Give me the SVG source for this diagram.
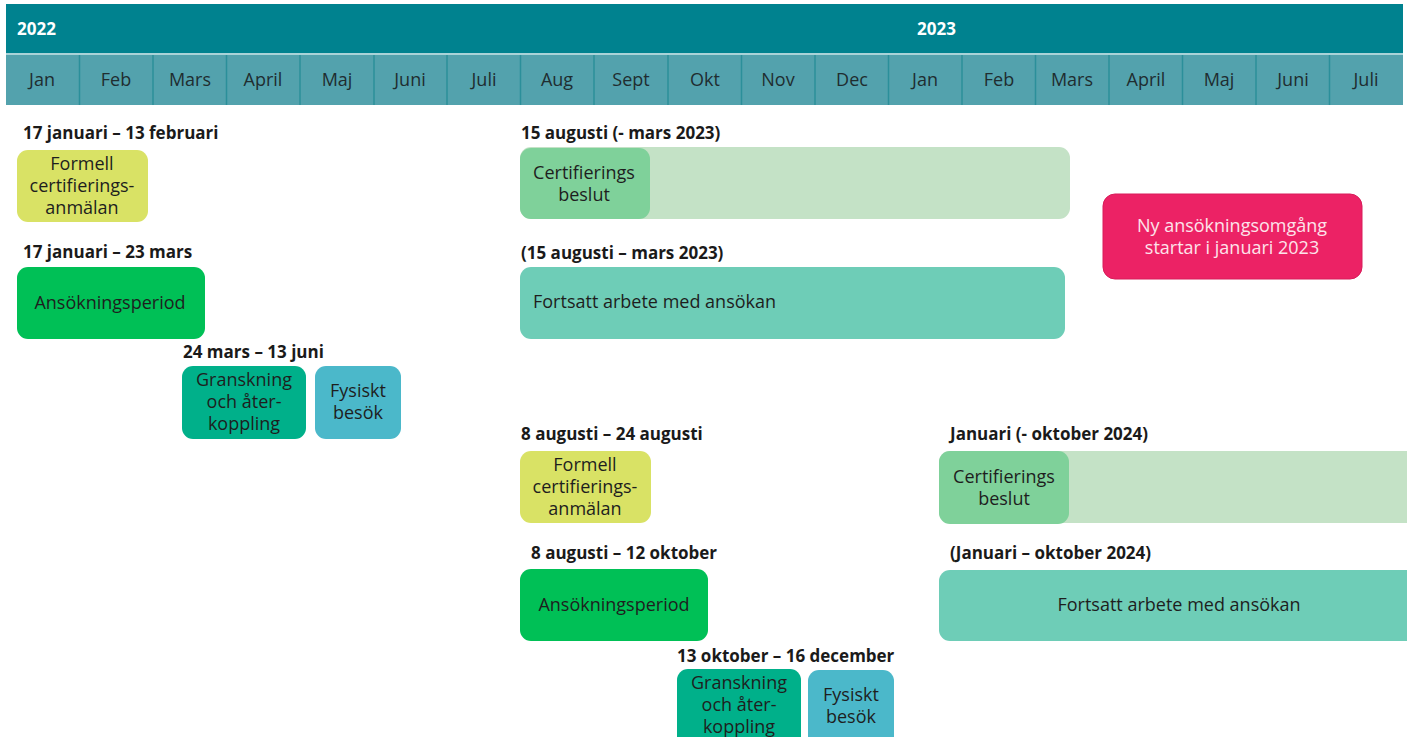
<svg xmlns="http://www.w3.org/2000/svg" width="1407" height="737" viewBox="0 0 1407 737">
<style>
.yr{font-family:"Open Sans","Liberation Sans",sans-serif;font-weight:bold;font-size:17px;fill:#ffffff}
.mo{font-family:"Open Sans","Liberation Sans",sans-serif;font-size:18px;fill:#1f2d30;text-anchor:middle}
.lbl{font-family:"Open Sans","Liberation Sans",sans-serif;font-weight:bold;font-size:17px;fill:#1a1a1a}
.t{font-family:"Open Sans","Liberation Sans",sans-serif;font-size:18px;fill:#1e1e1e;text-anchor:middle}
.tl{font-family:"Open Sans","Liberation Sans",sans-serif;font-size:18px;fill:#1e1e1e}
.sep{stroke:#2b8f9a;stroke-width:1.5}
.yellow{fill:#d9e265}
.green{fill:#00c056}
.teal{fill:#00b08a}
.blue{fill:#4bb8ca}
.pale{fill:#c4e2c6}
.mid{fill:#7fd19a}
.aqua{fill:#6ecdb7}
</style>
<rect width="1407" height="737" fill="#ffffff"/>
<g id="header">
<rect x="6" y="4" width="1397" height="49" fill="#00828f"/>
<rect x="6" y="53" width="1397" height="2" fill="#a9d3d8"/>
<rect x="6" y="55" width="1397" height="50" fill="#53a2ad"/>
<text class="yr" x="17" y="35">2022</text>
<text class="yr" x="917" y="35">2023</text>
<g>
<line class="sep" x1="79.5" y1="55" x2="79.5" y2="105"/>
<line class="sep" x1="153" y1="55" x2="153" y2="105"/>
<line class="sep" x1="226.5" y1="55" x2="226.5" y2="105"/>
<line class="sep" x1="300" y1="55" x2="300" y2="105"/>
<line class="sep" x1="374" y1="55" x2="374" y2="105"/>
<line class="sep" x1="447" y1="55" x2="447" y2="105"/>
<line class="sep" x1="520.5" y1="55" x2="520.5" y2="105"/>
<line class="sep" x1="594" y1="55" x2="594" y2="105"/>
<line class="sep" x1="668" y1="55" x2="668" y2="105"/>
<line class="sep" x1="741.5" y1="55" x2="741.5" y2="105"/>
<line class="sep" x1="815" y1="55" x2="815" y2="105"/>
<line class="sep" x1="888.5" y1="55" x2="888.5" y2="105"/>
<line class="sep" x1="962" y1="55" x2="962" y2="105"/>
<line class="sep" x1="1035.5" y1="55" x2="1035.5" y2="105"/>
<line class="sep" x1="1109" y1="55" x2="1109" y2="105"/>
<line class="sep" x1="1182.5" y1="55" x2="1182.5" y2="105"/>
<line class="sep" x1="1256" y1="55" x2="1256" y2="105"/>
<line class="sep" x1="1329.5" y1="55" x2="1329.5" y2="105"/>
</g>
<text class="mo" x="42" y="86">Jan</text>
<text class="mo" x="116" y="86">Feb</text>
<text class="mo" x="190" y="86">Mars</text>
<text class="mo" x="263" y="86">April</text>
<text class="mo" x="337" y="86">Maj</text>
<text class="mo" x="410" y="86">Juni</text>
<text class="mo" x="484" y="86">Juli</text>
<text class="mo" x="557" y="86">Aug</text>
<text class="mo" x="631" y="86">Sept</text>
<text class="mo" x="705" y="86">Okt</text>
<text class="mo" x="778" y="86">Nov</text>
<text class="mo" x="852" y="86">Dec</text>
<text class="mo" x="925" y="86">Jan</text>
<text class="mo" x="999" y="86">Feb</text>
<text class="mo" x="1072" y="86">Mars</text>
<text class="mo" x="1146" y="86">April</text>
<text class="mo" x="1219" y="86">Maj</text>
<text class="mo" x="1293" y="86">Juni</text>
<text class="mo" x="1366" y="86">Juli</text>
</g>

<g id="formell-2022">
<text class="lbl" x="23" y="139">17 januari – 13 februari</text>
<rect class="yellow" x="17" y="150" width="131" height="72" rx="11"/>
<text class="t" x="82" y="170">Formell</text>
<text class="t" x="82" y="192">certifierings-</text>
<text class="t" x="82" y="214">anmälan</text>
</g>
<g id="ansokning-2022">
<text class="lbl" x="23" y="258">17 januari – 23 mars</text>
<rect class="green" x="17" y="267" width="188" height="72" rx="11"/>
<text class="t" x="110" y="309">Ansökningsperiod</text>
</g>
<g id="granskning-2022">
<text class="lbl" x="183" y="358">24 mars – 13 juni</text>
<rect class="teal" x="182" y="366" width="124" height="73" rx="11"/>
<text class="t" x="244" y="386">Granskning</text>
<text class="t" x="244" y="408">och åter-</text>
<text class="t" x="244" y="430">koppling</text>
</g>
<g id="besok-2022">
<rect class="blue" x="315" y="366" width="86" height="73" rx="11"/>
<text class="t" x="358" y="397">Fysiskt</text>
<text class="t" x="358" y="419">besök</text>
</g>
<g id="beslut-2022">
<text class="lbl" x="521" y="139">15 augusti (- mars 2023)</text>
<rect class="pale" x="520" y="147" width="550" height="72" rx="11"/>
<rect class="mid" x="520" y="148" width="130" height="71" rx="11"/>
<text class="t" x="584" y="179">Certifierings</text>
<text class="t" x="584" y="201">beslut</text>
</g>
<g id="fortsatt-2022">
<text class="lbl" x="521" y="259">(15 augusti – mars 2023)</text>
<rect class="aqua" x="520" y="267" width="545" height="72" rx="11"/>
<text class="tl" x="533" y="308">Fortsatt arbete med ansökan</text>
</g>
<g id="ny-omgang">
<rect x="1103" y="194" width="259" height="85" rx="12" fill="#ec2265" stroke="#d81c5a" stroke-width="1"/>
<text class="t" x="1232" y="232" style="fill:#fde3ea">Ny ansökningsomgång</text>
<text class="t" x="1232" y="254" style="fill:#fde3ea">startar i januari 2023</text>
</g>
<g id="formell-2023">
<text class="lbl" x="521" y="440">8 augusti – 24 augusti</text>
<rect class="yellow" x="520" y="451" width="131" height="72" rx="11"/>
<text class="t" x="585" y="471">Formell</text>
<text class="t" x="585" y="493">certifierings-</text>
<text class="t" x="585" y="515">anmälan</text>
</g>
<g id="ansokning-2023">
<text class="lbl" x="531" y="559">8 augusti – 12 oktober</text>
<rect class="green" x="520" y="569" width="188" height="72" rx="11"/>
<text class="t" x="614" y="611">Ansökningsperiod</text>
</g>
<g id="granskning-2023">
<text class="lbl" x="677" y="662">13 oktober – 16 december</text>
<rect class="teal" x="677" y="669" width="124" height="80" rx="11"/>
<text class="t" x="739" y="689">Granskning</text>
<text class="t" x="739" y="711">och åter-</text>
<text class="t" x="739" y="733">koppling</text>
</g>
<g id="besok-2023">
<rect class="blue" x="808" y="670" width="86" height="80" rx="11"/>
<text class="t" x="851" y="701">Fysiskt</text>
<text class="t" x="851" y="723">besök</text>
</g>
<g id="beslut-2023">
<text class="lbl" x="950" y="440">Januari (- oktober 2024)</text>
<rect class="pale" x="939" y="451" width="480" height="72" rx="11"/>
<rect class="mid" x="939" y="451" width="130" height="73" rx="11"/>
<text class="t" x="1004" y="483">Certifierings</text>
<text class="t" x="1004" y="505">beslut</text>
</g>
<g id="fortsatt-2023">
<text class="lbl" x="950" y="559">(Januari – oktober 2024)</text>
<rect class="aqua" x="939" y="570" width="480" height="71" rx="11"/>
<text class="t" x="1179" y="611">Fortsatt arbete med ansökan</text>
</g>
<g id="connectors"></g>
</svg>
